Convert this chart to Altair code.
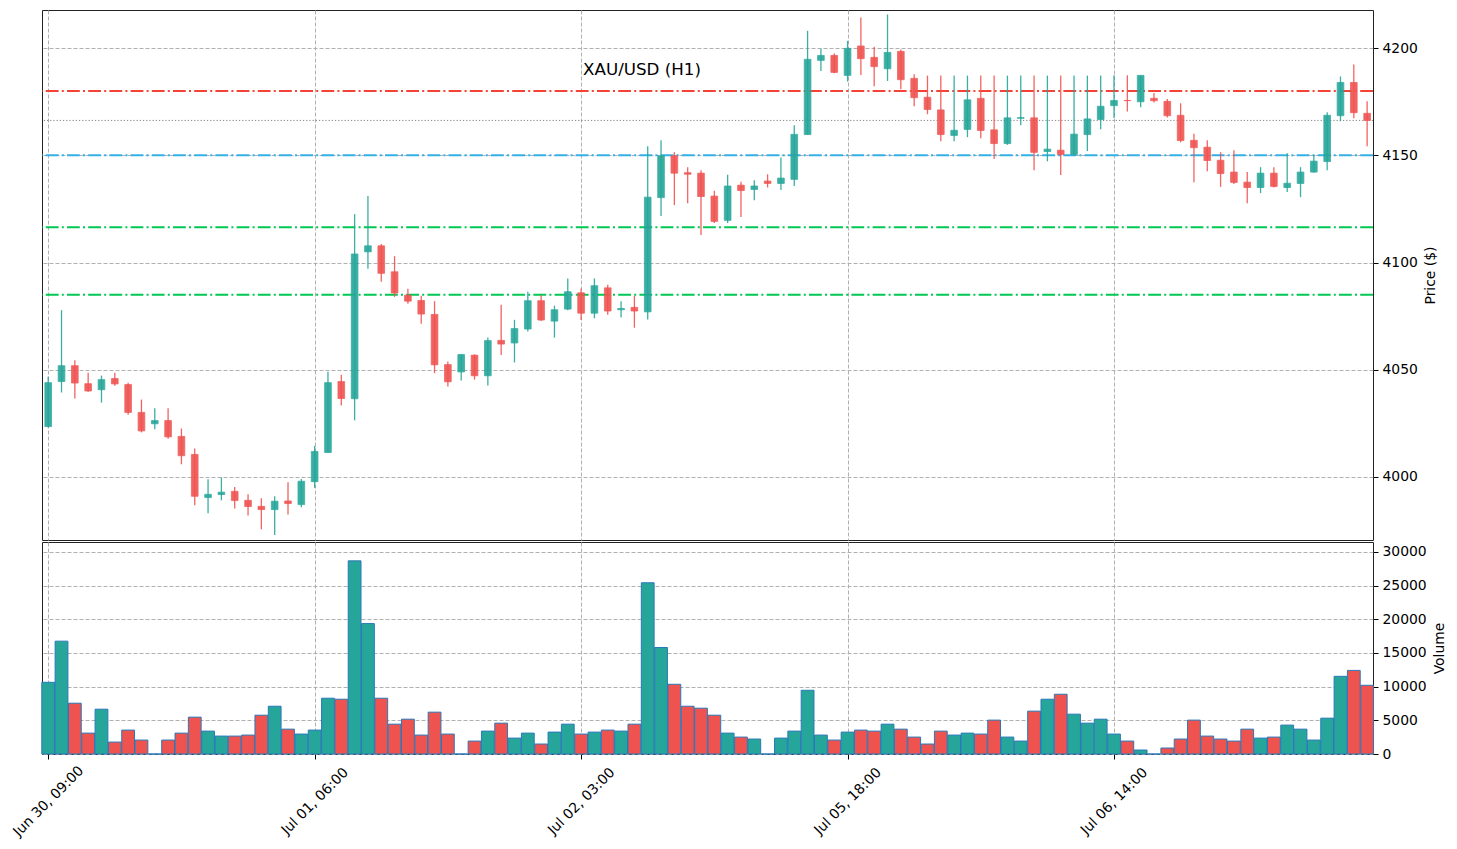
import altair as alt
import numpy as np
import pandas as pd

# Hourly XAU/USD candles, one row per bar index
opens = [
    4023.5, 4044.5, 4051.9, 4043.5, 4040.7, 4045.9, 4043.1, 4030.1, 4024.8, 4026.3,
    4018.9, 4010.5, 3990.4, 3991.8, 3993.3, 3989.1, 3986.3, 3984.8, 3988.8, 3987.1,
    3997.8, 4011.4, 4044.5, 4036.5, 4105.0, 4107.8, 4095.7, 4084.8, 4082.3, 4075.8,
    4052.4, 4049.0, 4056.8, 4047.2, 4063.7, 4062.5, 4069.0, 4082.2, 4072.7, 4078.3,
    4085.9, 4076.4, 4088.2, 4078.0, 4079.1, 4077.0, 4130.3, 4149.8, 4141.9, 4141.7,
    4131.0, 4119.7, 4136.1, 4134.1, 4138.0, 4136.9, 4138.8, 4159.7, 4194.3, 4196.6,
    4187.3, 4201.0, 4195.7, 4190.4, 4198.5, 4185.9, 4177.1, 4171.2, 4159.3, 4162.1,
    4176.6, 4161.9, 4155.5, 4167.3, 4167.5, 4151.8, 4152.4, 4150.4, 4159.7, 4166.7,
    4173.2, 4175.6, 4175.0, 4176.6, 4175.2, 4168.7, 4157.0, 4153.8, 4147.7, 4142.2,
    4137.5, 4135.0, 4141.7, 4135.0, 4136.9, 4142.2, 4147.1, 4168.5, 4184.0, 4169.6,
]
highs = [
    4046.8, 4077.8, 4054.4, 4048.6, 4047.3, 4048.6, 4044.0, 4036.1, 4032.1, 4032.1,
    4022.6, 4013.3, 3998.9, 3999.8, 3995.3, 3991.9, 3990.1, 3991.0, 3997.5, 3999.1,
    4014.5, 4049.1, 4047.7, 4122.6, 4131.0, 4108.7, 4103.0, 4087.8, 4084.5, 4082.0,
    4053.8, 4057.1, 4057.2, 4065.0, 4080.3, 4073.3, 4086.4, 4084.8, 4079.9, 4092.6,
    4087.9, 4092.6, 4089.6, 4081.9, 4084.5, 4154.3, 4157.0, 4151.5, 4144.5, 4143.1,
    4133.5, 4140.9, 4137.7, 4138.4, 4141.2, 4149.0, 4164.0, 4208.1, 4199.7, 4197.5,
    4203.4, 4214.3, 4200.7, 4215.7, 4199.4, 4187.8, 4187.2, 4187.2, 4187.2, 4187.2,
    4187.2, 4187.2, 4187.2, 4187.2, 4187.2, 4187.2, 4187.2, 4187.2, 4187.2, 4187.2,
    4187.4, 4187.4, 4187.3, 4179.1, 4176.3, 4174.3, 4160.1, 4157.0, 4151.5, 4152.4,
    4142.2, 4144.5, 4144.5, 4151.0, 4144.5, 4150.2, 4170.1, 4186.8, 4192.4, 4175.2,
]
lows = [
    4023.1, 4039.4, 4036.6, 4039.7, 4034.7, 4042.5, 4029.0, 4020.8, 4022.3, 4017.8,
    4005.9, 3986.8, 3983.1, 3989.1, 3985.3, 3982.0, 3975.6, 3972.9, 3982.5, 3985.9,
    3994.9, 4011.4, 4033.3, 4026.4, 4097.1, 4091.0, 4084.0, 4080.8, 4071.5, 4048.4,
    4042.2, 4045.0, 4045.4, 4042.7, 4056.9, 4053.4, 4067.8, 4072.7, 4065.0, 4077.8,
    4073.2, 4074.0, 4075.7, 4074.4, 4069.6, 4073.5, 4121.7, 4126.8, 4127.7, 4112.9,
    4118.4, 4118.4, 4121.2, 4129.1, 4135.0, 4133.8, 4135.7, 4159.7, 4189.3, 4188.3,
    4184.4, 4187.5, 4182.2, 4184.7, 4180.8, 4172.9, 4169.2, 4156.6, 4156.6, 4158.5,
    4158.0, 4148.3, 4154.9, 4164.1, 4143.0, 4147.2, 4140.8, 4149.7, 4152.0, 4162.2,
    4167.4, 4170.5, 4172.4, 4174.7, 4167.7, 4156.1, 4137.5, 4142.6, 4135.3, 4136.6,
    4127.7, 4132.4, 4135.0, 4132.9, 4130.5, 4142.0, 4143.1, 4165.9, 4167.3, 4154.3,
]
closes = [
    4044.0, 4051.9, 4043.8, 4040.1, 4045.4, 4043.4, 4030.1, 4021.5, 4026.3, 4018.7,
    4009.9, 3991.0, 3991.9, 3992.9, 3989.0, 3986.2, 3984.8, 3988.7, 3987.6, 3998.0,
    4011.9, 4044.0, 4036.6, 4104.0, 4107.8, 4095.0, 4085.8, 4082.0, 4076.0, 4052.3,
    4044.4, 4057.1, 4047.2, 4063.6, 4062.0, 4069.2, 4082.2, 4073.2, 4078.0, 4086.4,
    4076.4, 4089.2, 4077.4, 4078.6, 4077.4, 4130.5, 4149.8, 4141.7, 4141.2, 4130.8,
    4119.2, 4135.7, 4133.6, 4135.7, 4136.9, 4139.4, 4159.8, 4194.8, 4196.6, 4188.7,
    4199.9, 4195.1, 4191.4, 4198.0, 4185.3, 4176.9, 4171.4, 4159.7, 4161.7, 4175.9,
    4161.6, 4155.5, 4167.5, 4167.6, 4151.4, 4152.9, 4150.4, 4159.9, 4167.0, 4172.9,
    4175.6, 4175.5, 4187.3, 4175.5, 4168.5, 4156.9, 4153.6, 4147.6, 4141.5, 4137.4,
    4135.0, 4141.7, 4135.5, 4137.0, 4142.2, 4147.3, 4168.7, 4184.0, 4169.9, 4166.3,
]
volumes = [
    10640, 16750, 7540, 3100, 6650, 1770, 3550, 2070, 0, 2070,
    3100, 5470, 3400, 2660, 2660, 2810, 5760, 7090, 3690, 2960,
    3550, 8280, 8130, 28670, 19360, 8280, 4430, 5170, 2810, 6210,
    2960, 0, 1920, 3400, 4580, 2360, 3100, 1480, 3250, 4430,
    2960, 3250, 3550, 3400, 4430, 25420, 15810, 10350, 7090, 6800,
    5760, 3100, 2510, 2220, 0, 2360, 3400, 9460, 2810, 2070,
    3250, 3550, 3400, 4430, 3690, 2510, 1480, 3400, 2810, 3100,
    2960, 5030, 2510, 1920, 6360, 8130, 8870, 5910, 4580, 5170,
    2960, 1920, 590, 0, 890, 2220, 5030, 2660, 2220, 1920,
    3690, 2360, 2510, 4290, 3690, 2070, 5320, 11530, 12410, 10200,
]

# Time labels shown under selected bar indices
tick_index = [0, 20, 40, 60, 80]
tick_text = ["Jun 30, 09:00", "Jul 01, 06:00", "Jul 02, 03:00", "Jul 05, 18:00", "Jul 06, 14:00"]

# Key price levels
resistance_level = 4180
pivot_level = 4150
support_levels = [4116.5, 4085]

chart_title = "XAU/USD (H1)"

UP = "#26a69a"
DOWN = "#ef5350"
FONT = "DejaVu Sans"
GRID = "#b0b0b0"

n = len(opens)
df = pd.DataFrame({
    "idx": np.arange(n),
    "open": opens,
    "high": highs,
    "low": lows,
    "close": closes,
    "volume": volumes,
})
df["direction"] = np.where(df["close"] >= df["open"], "up", "down")

color_scale = alt.Scale(domain=["up", "down"], range=[UP, DOWN])
x_scale = alt.Scale(domain=[-0.465, 99.44], nice=False, zero=False)
price_scale = alt.Scale(domain=[3970.6, 4217.8], nice=False, zero=False)
vol_scale = alt.Scale(domain=[0, 31470], nice=False)

label_expr = " : ".join(
    f"datum.value == {i} ? '{t}'" for i, t in zip(tick_index, tick_text)
) + " : ''"

price_x_axis = alt.Axis(values=tick_index, labels=False, ticks=False, domain=False,
                        grid=True, gridDash=[4, 2], gridColor=GRID, title=None)
price_y_axis = alt.Axis(orient="right", values=[4000, 4050, 4100, 4150, 4200], format="d",
                        grid=True, gridDash=[4, 2], gridColor=GRID, domain=False,
                        tickSize=5, tickColor="#000", labelPadding=4,
                        title="Price ($)", titleAngle=270, titleBaseline="top",
                        titlePadding=6)
vol_x_axis = alt.Axis(values=tick_index, labelExpr=label_expr, labelAngle=315,
                      labelAlign="center", labelBaseline="middle", labelPadding=42,
                      grid=True, gridDash=[4, 2], gridColor=GRID, domain=False,
                      tickSize=5, tickColor="#000", title=None, labelOverlap=False)
vol_y_axis = alt.Axis(orient="right", values=[0, 5000, 10000, 15000, 20000, 25000, 30000],
                      format="d", grid=True, gridDash=[4, 2], gridColor=GRID, domain=False,
                      tickSize=5, tickColor="#000", labelPadding=4,
                      title="Volume", titleAngle=270, titleBaseline="top", titlePadding=6)

W = 1331
base = alt.Chart(df)

wicks = base.mark_rule(strokeWidth=1.3, opacity=0.9).encode(
    x=alt.X("idx:Q", scale=x_scale, axis=price_x_axis),
    y=alt.Y("low:Q", scale=price_scale, axis=price_y_axis),
    y2="high:Q",
    color=alt.Color("direction:N", scale=color_scale, legend=None),
)

bodies = base.transform_calculate(
    left="datum.idx - 0.25",
    right="datum.idx + 0.25",
    top="max(datum.open, datum.close)",
    bottom="min(datum.open, datum.close)",
).mark_bar(opacity=0.9, strokeWidth=0.8).encode(
    x=alt.X("left:Q", scale=x_scale, axis=price_x_axis),
    x2="right:Q",
    y=alt.Y("bottom:Q", scale=price_scale, axis=price_y_axis),
    y2="top:Q",
    color=alt.Color("direction:N", scale=color_scale, legend=None),
    stroke=alt.Stroke("direction:N", scale=color_scale, legend=None),
)

dash_dot = [12.8, 3.2, 2, 3.2]


def level_rule(value, color):
    return alt.Chart(pd.DataFrame({"level": [value]})).mark_rule(
        color=color, strokeWidth=2, strokeDash=dash_dot
    ).encode(y=alt.Y("level:Q", scale=price_scale, axis=price_y_axis))


resistance = level_rule(resistance_level, "#f44336")
pivot = level_rule(pivot_level, "#33b0e6")
supports = [level_rule(v, "#00c853") for v in support_levels]

last_close = alt.Chart(pd.DataFrame({"level": [closes[-1]]})).mark_rule(
    color="#808080", strokeWidth=1, strokeDash=[1.2, 2]
).encode(y=alt.Y("level:Q", scale=price_scale, axis=price_y_axis))

title_text = alt.Chart(pd.DataFrame({"label": [chart_title]})).mark_text(
    font=FONT, fontSize=16.7, color="#000", align="center", baseline="alphabetic"
).encode(x=alt.value(600), y=alt.value(65), text="label:N")

price_panel = alt.layer(
    last_close, resistance, pivot, *supports, wicks, bodies, title_text
).properties(width=W, height=530)

vol_bars = base.transform_calculate(
    left="datum.idx - 0.48",
    right="datum.idx + 0.48",
    floor="0",
).mark_bar(stroke="#2a78b8", strokeWidth=1).encode(
    x=alt.X("left:Q", scale=x_scale, axis=vol_x_axis),
    x2="right:Q",
    y=alt.Y("volume:Q", scale=vol_scale, axis=vol_y_axis),
    y2="floor:Q",
    color=alt.Color("direction:N", scale=color_scale, legend=None),
)

volume_panel = vol_bars.properties(width=W, height=212)

chart = alt.vconcat(price_panel, volume_panel, spacing=0).properties(
    padding={"left": 9, "top": 9, "right": 5, "bottom": 5},
    background="white",
).configure_view(
    stroke="#222", strokeWidth=1
).configure_axis(
    labelFont=FONT, labelFontSize=13.9, labelColor="#000",
    titleFont=FONT, titleFontSize=13.9, titleColor="#000", titleFontWeight="normal",
)

chart.save("out.html", embed_options={"renderer": "svg", "actions": False})
